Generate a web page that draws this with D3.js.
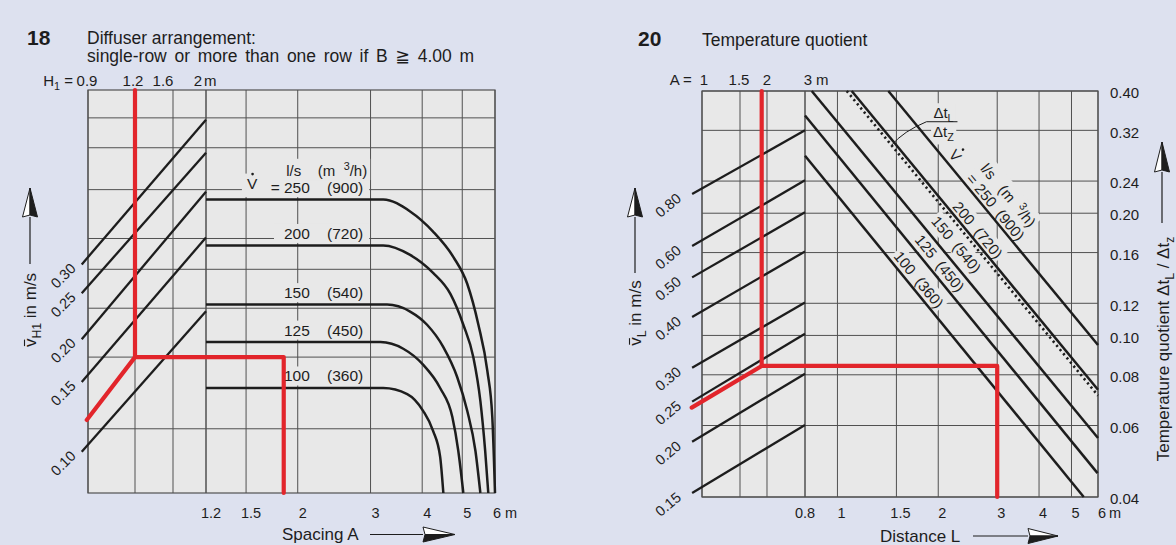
<!DOCTYPE html>
<html><head><meta charset="utf-8">
<script src="https://cdn.jsdelivr.net/npm/d3@7"></script>
<style>
html,body{margin:0;padding:0;background:#dde1ef;}
svg{display:block;font-family:"Liberation Sans",Arial,Helvetica,"DejaVu Sans",sans-serif;}
svg text{white-space:pre;}
</style></head><body>
<svg id="c" width="1176" height="545"></svg>
<script>
// ================= DATA : chart 18 =================
const h1Ticks = [0.9, 1.2, 1.6, 2];
const spacingTicks = [1.2, 1.5, 2, 3, 4, 5, 6];
const vhLabels = ["0.30", "0.25", "0.20", "0.15", "0.10"];
const vhAtLeft = [182.4, 158.5, 126.8, 103.0, 73.3];   // nomogram level at H = 0.86
const vhAtRight = [368.5, 314.0, 259.8, 207.9, 145.3]; // nomogram level at H = 2
const level18Grid = [372, 321.7, 262.4, 206.9, 178.1, 147.4, 116.2, 82.0];
const flowLs = [250, 200, 150, 125, 100];
const flowM3h = [900, 720, 540, 450, 360];
const curve250 = [[1.2,250],[3.22,250],[3.74,236],[4.25,214],[4.76,189],[5.14,166],[5.47,136],[5.75,108.6],[5.91,86.9],[6.0,60]];
const curve200 = [[1.2,200],[3.22,200],[3.74,191],[4.25,175],[4.68,158],[5.03,136],[5.32,116],[5.53,93.9],[5.68,73.7],[5.78,60]];
const curve150 = [[1.2,150],[3.29,150],[3.74,145],[4.11,136],[4.50,122],[4.86,105.5],[5.14,89.5],[5.38,73.7],[5.53,60]];
const curve125 = [[1.2,125],[3.17,125],[3.60,121],[4.02,112],[4.42,100],[4.73,86.9],[4.89,73.7],[5.03,60]];
const curve100 = [[1.2,100],[3.22,100],[3.68,97.1],[4.02,89.5],[4.25,81.2],[4.42,71.6],[4.50,60]];
const route18Start = [0.892, 85.6];   // H, level
const route18Knee = [1.2, 116.2];     // H, level
const route18A = 1.85;                // spacing A

// ================= DATA : chart 20 =================
const aTicks = [1, 1.5, 2, 3];
const lTicks = [0.8, 1, 1.5, 2, 3, 4, 5, 6];
const qTicks = [0.04, 0.06, 0.08, 0.10, 0.12, 0.16, 0.20, 0.24, 0.32, 0.40];
const vlLabels = ["0.80", "0.60", "0.50", "0.40", "0.30", "0.25", "0.20", "0.15"];
const vlAtA09 = [0.223, 0.166, 0.139, 0.111, 0.0833, 0.0687, 0.0547, 0.0409];
const vlAtA3 = [0.320, 0.241, 0.201, 0.161, 0.1205, 0.101, 0.0805, 0.0602];
const flow20Start = [[1.419,0.40],[1.103,0.40],[0.838,0.40],[0.8,0.348],[0.8,0.277]]; // [L, q] for 250..100
const flow20End = [[6,0.0947],[6,0.0735],[6,0.0559],[5.98,0.0458],[5.44,0.04]];
const ratioLine = [[1.066,0.40],[6,0.0711]];
const route20Start = [0.896, 0.0664];  // A, q
const route20Knee = [1.89, 0.0841];    // A, q
const route20L = 3.0;                  // distance L

// ================= STYLE / LAYOUT =================
const INK = '#1d1d1d', GRID = '#505050', RED = '#e2252b', PLOT = '#e8e8e8';
const svg = d3.select('#c');
const gGrid = svg.append('g'), gBg = svg.append('g'), gMark = svg.append('g'),
      gRed = svg.append('g'), gText = svg.append('g');

function txt(layer, x, y, s, size, anchor, weight) {
  const t = layer.append('text').attr('x', x).attr('y', y).attr('font-size', size)
    .attr('fill', INK).attr('text-anchor', anchor || 'start');
  if (weight) t.attr('font-weight', weight);
  if (s !== null) t.text(s);
  return t;
}
function rich(t, parts, size) {
  let shift = 0;
  parts.forEach(p => {
    const s = p.sub ? size * 0.28 : p.sup ? -size * 0.42 : 0;
    const ts = t.append('tspan').text(p.t).attr('font-size', (p.sub || p.sup) ? size * 0.72 : size);
    if (s !== shift) ts.attr('dy', s - shift);
    shift = s;
  });
  return t;
}
function bgFor(t, layer, pad) {
  const b = t.node().getBBox();
  layer.append('rect').attr('x', b.x - pad).attr('y', b.y - 1).attr('width', b.width + 2 * pad)
    .attr('height', b.height + 2).attr('fill', PLOT);
}
function bgUnion(ts, layer, padL, padR) {
  const bs = ts.map(t => t.node().getBBox());
  const x0 = d3.min(bs, b => b.x) - padL, x1 = d3.max(bs, b => b.x + b.width) + padR;
  const y0 = d3.min(bs, b => b.y) - 1, y1 = d3.max(bs, b => b.y + b.height) + 1;
  layer.append('rect').attr('x', x0).attr('y', y0).attr('width', x1 - x0).attr('height', y1 - y0).attr('fill', PLOT);
}
function hline(x1, x2, y) { gGrid.append('line').attr('x1', x1).attr('x2', x2).attr('y1', y).attr('y2', y).attr('stroke', GRID).attr('stroke-width', 1); }
function vline(x, y1, y2) { gGrid.append('line').attr('x1', x).attr('x2', x).attr('y1', y1).attr('y2', y2).attr('stroke', GRID).attr('stroke-width', 1); }
function seg(layer, p, q, w, color, dash) {
  const l = layer.append('line').attr('x1', p[0]).attr('y1', p[1]).attr('x2', q[0]).attr('y2', q[1])
    .attr('stroke', color || INK).attr('stroke-width', w);
  if (dash) l.attr('stroke-dasharray', dash);
  return l;
}
function arrowUp(x, yTip, yBase, yTail, hw) {
  gText.append('line').attr('x1', x).attr('x2', x).attr('y1', yBase).attr('y2', yTail).attr('stroke', INK).attr('stroke-width', 1.2);
  gText.append('polygon').attr('points', [[x, yTip], [x - hw, yBase], [x, yBase - 2]].join(' ')).attr('fill', '#fff').attr('stroke', INK).attr('stroke-width', 1);
  gText.append('polygon').attr('points', [[x, yTip], [x, yBase - 2], [x + hw, yBase]].join(' ')).attr('fill', INK).attr('stroke', INK).attr('stroke-width', 1);
}
function arrowRight(x0, xBase, xTip, y, hh) {
  gText.append('line').attr('x1', x0).attr('x2', xBase).attr('y1', y).attr('y2', y).attr('stroke', INK).attr('stroke-width', 1.2);
  gText.append('polygon').attr('points', [[xTip, y], [xBase, y - hh], [xBase + 2, y]].join(' ')).attr('fill', '#fff').attr('stroke', INK).attr('stroke-width', 1);
  gText.append('polygon').attr('points', [[xTip, y], [xBase + 2, y], [xBase, y + hh]].join(' ')).attr('fill', INK).attr('stroke', INK).attr('stroke-width', 1);
}

// ================= CHART 18 =================
const P18 = {x0: 88, xs: 206, x1: 495, y0: 90, y1: 493};
const xH = d3.scaleLinear().domain(h1Ticks).range([88, 135, 173, 206]);
const xA18 = d3.scaleLog().domain([1.2, 6]).range([P18.xs, P18.x1]);
const y18 = d3.scaleLog().domain([60, 426]).range([P18.y1, P18.y0]);

gGrid.append('rect').attr('x', P18.x0).attr('y', P18.y0).attr('width', P18.x1 - P18.x0).attr('height', P18.y1 - P18.y0).attr('fill', PLOT);
level18Grid.forEach(l => hline(P18.x0, P18.x1, y18(l)));
h1Ticks.forEach(h => vline(xH(h), P18.y0, P18.y1));
spacingTicks.forEach(a => vline(xA18(a), P18.y0, P18.y1));
gGrid.append('rect').attr('x', P18.x0).attr('y', P18.y0).attr('width', P18.x1 - P18.x0).attr('height', P18.y1 - P18.y0).attr('fill', 'none').attr('stroke', GRID).attr('stroke-width', 1.2);

// diagonal v_H1 lines
vhLabels.forEach((lab, i) => {
  const p = [xH(0.86), y18(vhAtLeft[i])], q = [xH(2), y18(vhAtRight[i])];
  seg(gMark, p, q, 2.3);
  txt(gText, p[0] - 5, p[1] + 5, lab, 14.5, 'end').attr('transform', `rotate(-45,${p[0] - 5},${p[1] + 5})`);
});

// flow curves
const curves18 = [curve250, curve200, curve150, curve125, curve100];
const line18 = d3.line().x(d => xA18(d[0])).y(d => y18(d[1])).curve(d3.curveMonotoneX);
curves18.forEach(c => gMark.append('path').attr('d', line18(c)).attr('fill', 'none').attr('stroke', INK).attr('stroke-width', 2.5));

flowLs.forEach((v, i) => {
  const yb = y18(v) - 6.5;
  const n = txt(gText, xA18(2.14), yb, (i === 0 ? '= ' : '') + v, 15.5, 'end');
  const b = txt(gText, xA18(2.88), yb, '(' + flowM3h[i] + ')', 15.5, 'end');
  const row = [n, b];
  if (i === 0) {
    const yv = y18(250) - 11, xv = xA18(1.5) + 6;
    const V = txt(gText, xv, yv, 'V', 15.5, 'middle');
    gText.append('circle').attr('cx', xv + 0.5).attr('cy', yv - 14.5).attr('r', 1.3).attr('fill', INK);
    row.push(V);
  }
  bgUnion(row, gBg, i === 0 ? 5 : 10, 6);
});
{
  const u = rich(txt(gText, xA18(2.88) + 4, y18(250) - 23.5, null, 15, 'end'),
    [{t: 'l/s    (m  '}, {t: '3', sup: true}, {t: '/h)'}], 15);
  bgFor(u, gBg, 3);
}

// red route
{
  const knee = [xH(route18Knee[0]), y18(route18Knee[1])];
  const pts = [[xH(route18Start[0]), y18(route18Start[1])], knee, [xA18(route18A), knee[1]], [xA18(route18A), P18.y1]];
  gRed.append('path').attr('d', d3.line()(pts)).attr('fill', 'none').attr('stroke', RED).attr('stroke-width', 4.2).attr('stroke-linejoin', 'round').attr('stroke-linecap', 'round');
  gRed.append('path').attr('d', d3.line()([[knee[0], P18.y0], knee])).attr('fill', 'none').attr('stroke', RED).attr('stroke-width', 4.2).attr('stroke-linecap', 'round');
}

// titles & axes 18
txt(gText, 27, 45, '18', 21, 'start', 'bold');
txt(gText, 87, 44, 'Diffuser arrangement:', 17.5);
txt(gText, 87, 62, 'single-row or more than one row if B \u2267 4.00 m', 17.5).attr('word-spacing', 2.8);
{
  const nudge = [-1, -2, -10, -8];
  rich(txt(gText, xH(0.9) - 15, 86, null, 15, 'end'), [{t: 'H'}, {t: '1', sub: true}, {t: ' ='}], 15);
  h1Ticks.forEach((h, i) => txt(gText, xH(h) + nudge[i], 86, String(h), 15, 'middle'));
  txt(gText, xH(2) - 2, 86, 'm', 15, 'start');
}
spacingTicks.forEach((a, i) => txt(gText, xA18(a) + (i === spacingTicks.length - 1 ? 2 : 5), 518, String(a), 14.5, 'middle'));
txt(gText, xA18(6) + 10, 518, 'm', 14.5, 'start');
txt(gText, 282, 539.5, 'Spacing A', 17);
arrowRight(370, 423, 455, 534.5, 7.5);
{
  const g = gText.append('g').attr('transform', 'translate(30,310) rotate(-90)');
  const t = rich(txt(g, 0, 6, null, 17, 'middle'), [{t: 'v'}, {t: 'H1', sub: true}, {t: ' in m/s'}], 17);
  const s = t.node().getStartPositionOfChar(0), e = t.node().getEndPositionOfChar(0);
  g.append('line').attr('x1', s.x + 1).attr('x2', e.x - 1).attr('y1', 6 - 11.5).attr('y2', 6 - 11.5).attr('stroke', INK).attr('stroke-width', 1.1);
  arrowUp(30, 188, 217, 264, 7.5);
}

// ================= CHART 20 =================
const P20 = {x0: 702, xs: 805, x1: 1098, y0: 91, y1: 497};
const xA20 = d3.scaleLog().domain([1, 3]).range([P20.x0, P20.xs]);
const xL = d3.scaleLog().domain([0.8, 6]).range([P20.xs, P20.x1]);
const yQ = d3.scaleLog().domain([0.04, 0.40]).range([P20.y1, P20.y0]);

gGrid.append('rect').attr('x', P20.x0).attr('y', P20.y0).attr('width', P20.x1 - P20.x0).attr('height', P20.y1 - P20.y0).attr('fill', PLOT);
qTicks.forEach(q => hline(P20.x0, P20.x1, yQ(q)));
aTicks.forEach(a => vline(xA20(a), P20.y0, P20.y1));
lTicks.forEach(l => vline(xL(l), P20.y0, P20.y1));
gGrid.append('rect').attr('x', P20.x0).attr('y', P20.y0).attr('width', P20.x1 - P20.x0).attr('height', P20.y1 - P20.y0).attr('fill', 'none').attr('stroke', GRID).attr('stroke-width', 1.2);

// v_L lines
vlLabels.forEach((lab, i) => {
  const p = [xA20(0.9), yQ(vlAtA09[i])], q = [xA20(3), yQ(vlAtA3[i])];
  seg(gMark, p, q, 2.3);
  const ax = p[0] - 10, ay = p[1] + 6;
  txt(gText, ax, ay, lab, 14.5, 'end').attr('transform', `rotate(-40,${ax},${ay})`);
});

// flow lines
const flowPx = flowLs.map((v, i) => [[xL(flow20Start[i][0]), yQ(flow20Start[i][1])], [xL(flow20End[i][0]), yQ(flow20End[i][1])]]);
flowPx.forEach(p => seg(gMark, p[0], p[1], 2.5));
const ratioPx = [[xL(ratioLine[0][0]), yQ(ratioLine[0][1])], [xL(ratioLine[1][0]), yQ(ratioLine[1][1])]];
seg(gMark, ratioPx[0], ratioPx[1], 2.6, INK, '2.2,3.2');

function along(p, t, n) {
  const dx = p[1][0] - p[0][0], dy = p[1][1] - p[0][1], len = Math.hypot(dx, dy);
  const ux = dx / len, uy = dy / len;
  return {x: p[0][0] + ux * len * t + uy * n, y: p[0][1] + uy * len * t - ux * n, a: Math.atan2(dy, dx) * 180 / Math.PI};
}
function rotLabel(pos, build, pad) {
  const tr = `translate(${pos.x},${pos.y}) rotate(${pos.a})`;
  const g = gText.append('g').attr('transform', tr);
  const gb = gBg.append('g').attr('transform', tr);
  const t = build(g);
  bgFor(t, gb, pad);
  return g;
}
const labT = [0.479, 0.484, 0.468, 0.432, 0.381];
const labN = [8.5, 8.5, 13.5, 10.5, 9.5];
flowLs.forEach((v, i) => {
  const pos = along(flowPx[i], labT[i], labN[i]);
  rotLabel(pos, g => txt(g, 0, 5, (i === 0 ? '= ' : '') + v + '  (' + flowM3h[i] + ')', 15, 'middle'), 2);
});
{
  const pos = along(flowPx[0], 0.28, 10.3);
  rotLabel(pos, g => {
    g.append('circle').attr('cx', 0.5).attr('cy', -10).attr('r', 1.3).attr('fill', INK);
    return txt(g, 0, 5, 'V', 15, 'middle');
  }, 1);
  const pu = along(flowPx[0], 0.476, 25.8);
  rotLabel(pu, g => rich(txt(g, 0, 5, null, 15, 'middle'), [{t: 'l/s   (m  '}, {t: '3', sup: true}, {t: '/h)'}], 15), 1);
}
// delta-t annotation
{
  const xa = xL(1.45);
  const t = (xa - ratioPx[0][0]) / (ratioPx[1][0] - ratioPx[0][0]);
  const ya = ratioPx[0][1] + t * (ratioPx[1][1] - ratioPx[0][1]);
  const bx = xa + 35, by = ya - 23.5;
  gText.append('path').attr('d', `M${xa},${ya} Q${xa + 12},${ya - 14} ${bx},${by} L${bx + 31},${by}`).attr('fill', 'none').attr('stroke', INK).attr('stroke-width', 1);
  const t1 = rich(txt(gText, bx + 17, by - 3.5, null, 15, 'middle'), [{t: '\u0394t'}, {t: 'L', sub: true}], 15);
  const t2 = rich(txt(gText, bx + 17, by + 15.5, null, 15, 'middle'), [{t: '\u0394t'}, {t: 'Z', sub: true}], 15);
  bgFor(t1, gBg, 2); bgFor(t2, gBg, 2);
}

// red route 20
{
  const knee = [xA20(route20Knee[0]), yQ(route20Knee[1])];
  const pts = [[xA20(route20Start[0]), yQ(route20Start[1])], knee, [xL(route20L), knee[1]], [xL(route20L), P20.y1]];
  gRed.append('path').attr('d', d3.line()(pts)).attr('fill', 'none').attr('stroke', RED).attr('stroke-width', 4.2).attr('stroke-linejoin', 'round').attr('stroke-linecap', 'round');
  gRed.append('path').attr('d', d3.line()([[knee[0], P20.y0], knee])).attr('fill', 'none').attr('stroke', RED).attr('stroke-width', 4.2).attr('stroke-linecap', 'round');
}

// titles & axes 20
txt(gText, 638, 46, '20', 21, 'start', 'bold');
txt(gText, 702, 46, 'Temperature quotient', 17.5);
{
  const nudge = [2, -1, 0, 3];
  txt(gText, xA20(1) - 6, 85, 'A = ', 15, 'end');
  aTicks.forEach((a, i) => txt(gText, xA20(a) + nudge[i], 85, String(a), 15, 'middle'));
  txt(gText, xA20(3) + 11, 85, 'm', 15, 'start');
}
lTicks.forEach((l, i) => txt(gText, xL(l) + (i === 0 ? 0 : 4), 518, String(l), 14.5, 'middle'));
txt(gText, xL(6) + 11, 518, 'm', 14.5, 'start');
qTicks.forEach(q => txt(gText, 1110, yQ(q) + 2, d3.format('.2f')(q), 15, 'start').attr('dy', '0.35em'));
txt(gText, 880, 541.5, 'Distance L', 17);
arrowRight(973, 1028, 1058, 536, 7.5);
{
  const g = gText.append('g').attr('transform', 'translate(635,313) rotate(-90)');
  const t = rich(txt(g, 0, 6, null, 17, 'middle'), [{t: 'v'}, {t: 'L', sub: true}, {t: ' in m/s'}], 17);
  const s = t.node().getStartPositionOfChar(0), e = t.node().getEndPositionOfChar(0);
  g.append('line').attr('x1', s.x + 1).attr('x2', e.x - 1).attr('y1', 6 - 11.5).attr('y2', 6 - 11.5).attr('stroke', INK).attr('stroke-width', 1.1);
  arrowUp(635, 188, 217, 273, 7.5);
}
{
  const g = gText.append('g').attr('transform', 'translate(1163,349) rotate(-90)');
  rich(txt(g, 0, 6, null, 17, 'middle'), [{t: 'Temperature quotient \u0394t'}, {t: 'L', sub: true}, {t: ' / \u0394t'}, {t: 'z', sub: true}], 17);
  arrowUp(1162, 142, 172, 223, 7.5);
}
</script>
</body></html>
